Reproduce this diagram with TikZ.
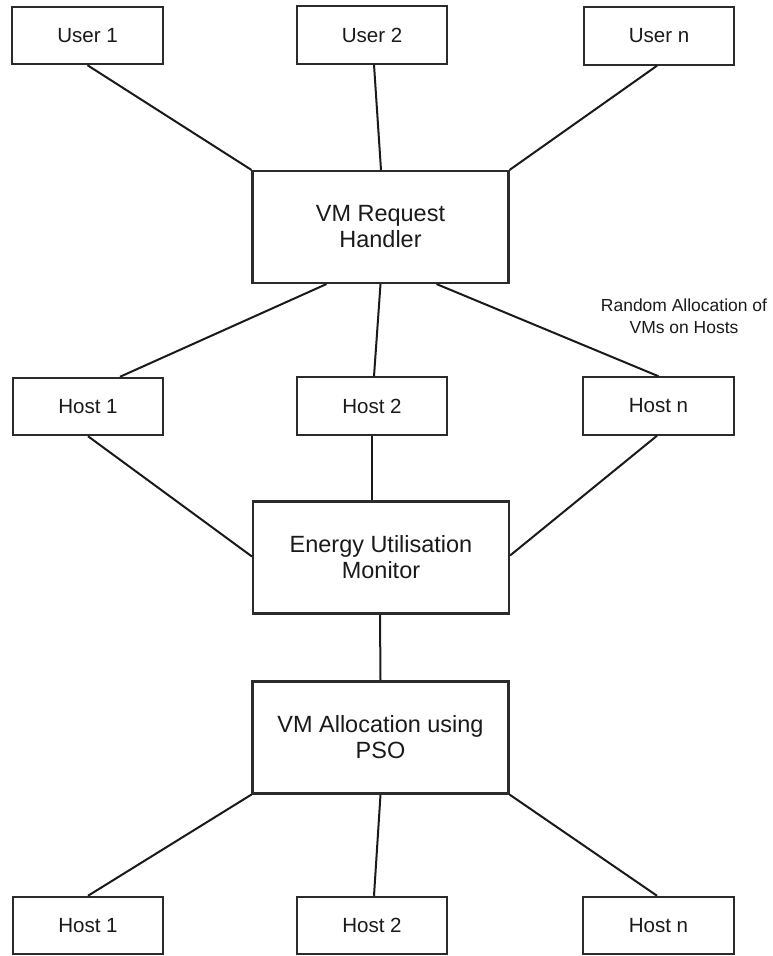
\documentclass[tikz,border=0pt]{standalone}
\usepackage{fontspec}
\setmainfont{Liberation Sans}
\usetikzlibrary{calc}
\definecolor{edge}{HTML}{2B2B2B}
\definecolor{ink}{HTML}{1A1A1A}
\begin{document}
\begin{tikzpicture}[x=0.75pt,y=-0.75pt,
  smallbox/.style={draw=edge,line width=1.6pt,fill=white,inner sep=0pt,
    minimum width=113pt,minimum height=43pt,text=ink,
    font=\fontsize{15.4pt}{18pt}\selectfont},
  bigbox/.style={draw=edge,line width=1.6pt,fill=white,inner sep=0pt,
    minimum width=192pt,minimum height=84pt,align=center,text=ink,
    font=\fontsize{17.6pt}{19.5pt}\selectfont},
  link/.style={draw=ink,line width=1.5pt}]
\useasboundingbox (0,0) rectangle (772,956);

% users
\node[smallbox] (u1) at (87.5,35.5) {User 1};
\node[smallbox] (u2) at (372,35)   {User 2};
\node[smallbox] (un) at (659,36)   {User n};

% request handler
\node[bigbox] (req) at (380.5,227) {VM Request\\Handler};

% hosts after random allocation
\node[smallbox] (h1) at (88,406.5)    {Host 1};
\node[smallbox] (h2) at (372,406)     {Host 2};
\node[smallbox] (hn) at (658.5,406)   {Host n};

\node[align=center,text=ink,font=\fontsize{13.1pt}{16.5pt}\selectfont]
  (note) at (684,316) {Random Allocation of\\VMs on Hosts};

% monitor and PSO allocator
\node[bigbox] (mon) at (381,557.5)   {Energy Utilisation\\Monitor};
\node[bigbox] (pso) at (380.5,737.5) {VM Allocation using\\PSO};

% hosts after PSO allocation
\node[smallbox] (b1) at (88,925.5)    {Host 1};
\node[smallbox] (b2) at (372,925.5)   {Host 2};
\node[smallbox] (bn) at (658.5,925.5) {Host n};

% connectors
\draw[link] (u1.south) -- (req.north west);
\draw[link] ($(u2.south)+(2,0)$) -- ($(req.north)+(0.5,0)$);
\draw[link] ($(un.south)+(-2,0)$) -- (req.north east);

\draw[link] ($(req.south west)+(75,0)$) -- ($(h1.north)+(32,0)$);
\draw[link] (req.south) -- ($(h2.north)+(2,0)$);
\draw[link] ($(req.south east)+(-73,0)$) -- (hn.north);

\draw[link] (h1.south) -- ($(mon.west)+(0,-1)$);
\draw[link] (h2.south) -- (h2.south |- mon.north);
\draw[link] ($(hn.south)+(-1.5,0)$) -- ($(mon.east)+(0,-2)$);

\draw[link] ($(mon.south)+(-1,0)$) -- (pso.north);

\draw[link] (pso.south west) -- (b1.north);
\draw[link] (pso.south) -- ($(b2.north)+(2,0)$);
\draw[link] (pso.south east) -- ($(bn.north)+(-1.5,0)$);
\end{tikzpicture}
\end{document}
